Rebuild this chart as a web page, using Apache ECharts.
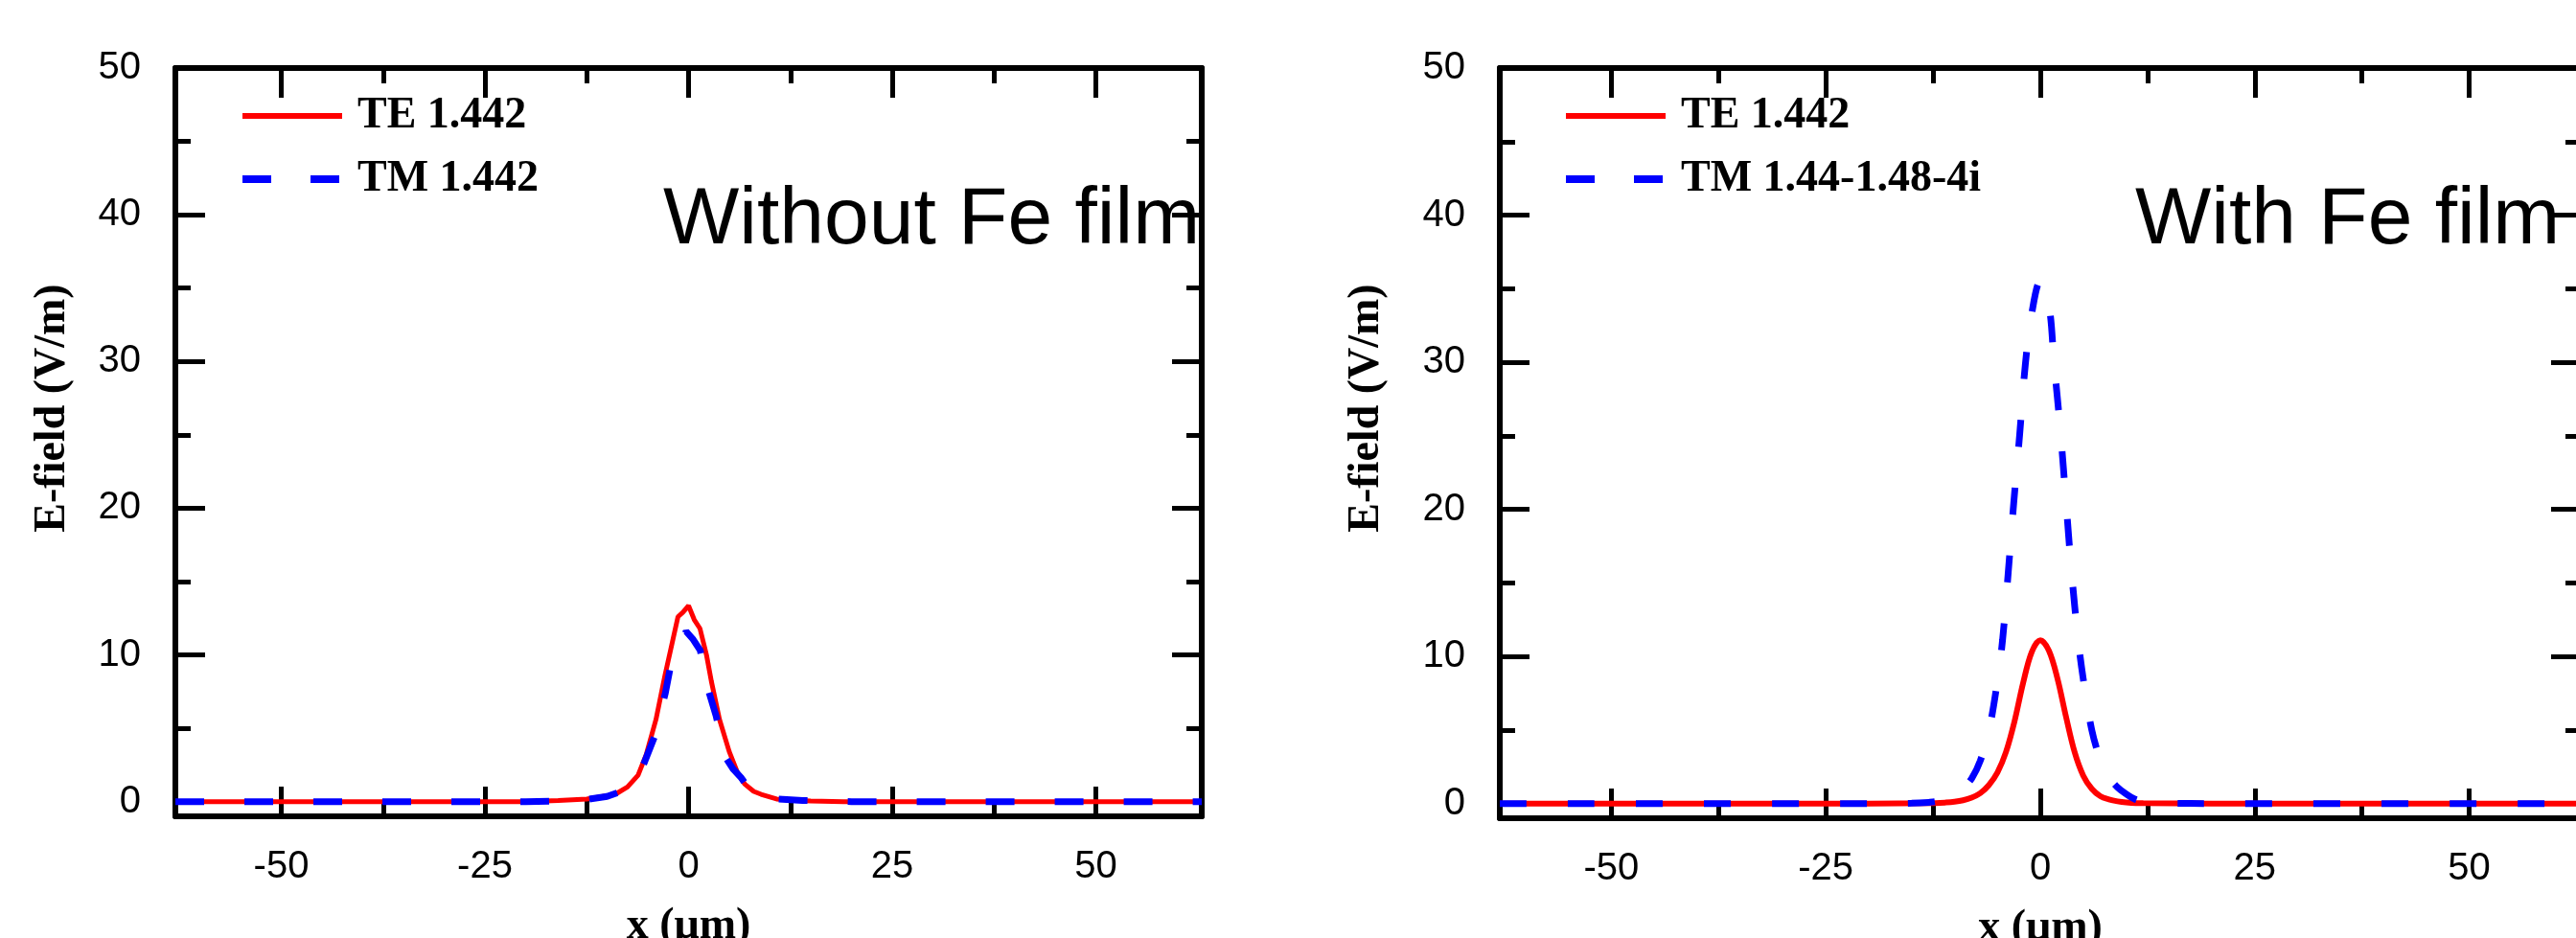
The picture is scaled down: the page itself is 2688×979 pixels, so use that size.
<!DOCTYPE html>
<html><head><meta charset="utf-8">
<script src="https://cdn.jsdelivr.net/npm/echarts@6/dist/echarts.min.js"></script>
<style>html,body{margin:0;padding:0;background:#fff}#c{width:2688px;height:979px}</style>
</head><body><div id="c"></div>
<script>
// ---- texts / ticks ----
const panelTitles = ['Without Fe film', 'With Fe film'];
const namesLeft = ['TE 1.442', 'TM 1.442'];
const namesRight = ['TE 1.442', 'TM 1.44-1.48-4i'];
const xTitle = 'x (\u03bcm)';
const yTitle = 'E-field (V/m)';
const xTicksMajor = [-50, -25, 0, 25, 50];
const xTicksMinor = [-37.5, -12.5, 12.5, 37.5];
const yLabels = [0, 10, 20, 30, 40, 50];
const yTicksMajor = [10, 20, 30, 40, 50];
const yTicksMinor = [5, 15, 25, 35, 45];

// ---- data: left panel (without Fe film) ----
const leftTE_x = [-63,-40,-20,-16,-12.5,-11.4,-10,-8.7,-7.5,-6.2,-5.2,-4,-2.9,-1.9,-1.3,-0.7,0,0.7,1.4,2.2,2.8,3.8,5,6,6.9,8,8.9,10.8,13,15,19,40,63];
const leftTE_y = [0,0,0,0.07,0.18,0.28,0.4,0.6,1.0,1.8,3.2,5.6,8.6,11.1,12.6,12.9,13.35,12.4,11.8,10.0,8.2,5.6,3.4,2.0,1.2,0.7,0.5,0.18,0.1,0.05,0,0,0];
const leftTM_x = [-63,-20,-16,-12.5,-10,-8.5,-7,-6.2,-5.4,-4.2,-2.85,-2.26,-1.2,-0.3,0.5,1.44,2.43,3.4,4.57,5.5,6.5,7.5,9,11,14,20,63];
const leftTM_y = [0,0,0.05,0.15,0.35,0.65,1.2,1.8,2.7,4.4,7.4,9.1,10.6,11.6,11.1,10.3,7.6,5.8,3.0,2.2,1.6,0.8,0.4,0.18,0.08,0,0];

// ---- data: right panel (with Fe film) ----
const rightTE_x = [-63,-20,-13,-11,-10,-9,-8,-7,-6,-5,-4,-3,-2,-1,0,1,2,3,4,5,6,7,8,9,10,12,20,63];
const rightTE_y = [0,0,0.02,0.07,0.12,0.22,0.4,0.7,1.25,2.1,3.5,5.6,8.2,10.3,11.1,10.4,8.5,5.9,3.5,1.9,1.0,0.5,0.28,0.15,0.08,0.02,0,0];
const rightTM_x = [-63,-20,-15,-13,-12,-11,-10,-9,-8,-7,-6,-5,-4.4,-3.75,-3.1,-2.4,-1.75,-1,0,1,1.6,2.35,3,3.65,4.4,5,6,7,8,9,10,11,12,13,15,20,63];
const rightTM_y = [0,0,0.02,0.08,0.15,0.35,0.65,1.05,1.7,2.9,4.9,8.3,11.1,15.6,20.4,25.1,29.8,33.3,35.5,33.9,30.0,25.3,20.5,15.7,11.2,8.5,5.0,3.0,1.8,1.1,0.65,0.3,0.13,0.06,0.02,0,0];

const pairs = (xs, ys) => xs.map((x, i) => [x, ys[i]]);

const SANS = '"Liberation Sans", Arial, sans-serif';
const SERIF = '"Liberation Serif", "Times New Roman", serif';

const grids = [
  { left: 183, top: 71, width: 1071, height: 781, outerBoundsMode: 'none' },
  { left: 1565, top: 71, width: 1128, height: 783, outerBoundsMode: 'none' }
];

const xAxes = [], yAxes = [];
grids.forEach((g, gi) => {
  const base = { type: 'value', min: -63, max: 63, gridIndex: gi, splitLine: { show: false } };
  const line = { show: true, onZero: false, lineStyle: { color: '#000', width: 6 } };
  const noLine = { show: false, onZero: false };
  const tick = (vals, len) => ({ show: true, inside: true, length: len, customValues: vals, lineStyle: { color: '#000', width: 5 } });
  xAxes.push(Object.assign({}, base, {
    position: 'bottom', axisLine: line, axisTick: tick(xTicksMajor, 31),
    axisLabel: { show: true, customValues: xTicksMajor, margin: 33, fontSize: 40, fontFamily: SANS, color: '#000' },
    name: xTitle, nameLocation: 'middle', nameGap: 92,
    nameTextStyle: { fontSize: 46, fontWeight: 'bold', fontFamily: SERIF, color: '#000' }
  }));
  xAxes.push(Object.assign({}, base, { position: 'bottom', axisLine: noLine, axisTick: tick(xTicksMinor, 16), axisLabel: { show: false } }));
  xAxes.push(Object.assign({}, base, { position: 'top', axisLine: line, axisTick: tick(xTicksMajor, 31), axisLabel: { show: false } }));
  xAxes.push(Object.assign({}, base, { position: 'top', axisLine: noLine, axisTick: tick(xTicksMinor, 16), axisLabel: { show: false } }));

  const ybase = { type: 'value', min: -1, max: 50, gridIndex: gi, splitLine: { show: false } };
  yAxes.push(Object.assign({}, ybase, {
    position: 'left', axisLine: line, axisTick: tick(yTicksMajor, 31),
    axisLabel: { show: true, customValues: yLabels, margin: 36, fontSize: 40, fontFamily: SANS, color: '#000' }
  }));
  yAxes.push(Object.assign({}, ybase, { position: 'left', axisLine: noLine, axisTick: tick(yTicksMinor, 16), axisLabel: { show: false } }));
  yAxes.push(Object.assign({}, ybase, { position: 'right', axisLine: line, axisTick: tick(yTicksMajor, 31), axisLabel: { show: false } }));
  yAxes.push(Object.assign({}, ybase, { position: 'right', axisLine: noLine, axisTick: tick(yTicksMinor, 16), axisLabel: { show: false } }));
});

function mkSeries(name, data, gi, color, width, dash, smooth) {
  return {
    name, type: 'line', xAxisIndex: gi * 4, yAxisIndex: gi * 4, data,
    symbol: 'none', smooth: smooth, animation: false,
    lineStyle: { color, width, type: dash || 'solid', cap: 'butt' },
    itemStyle: { color }
  };
}

const legendCommon = {
  orient: 'vertical', itemWidth: 104, itemHeight: 14, itemGap: 20,
  itemStyle: { opacity: 0, color: 'rgba(0,0,0,0)', borderWidth: 0 },
  textStyle: { fontSize: 46, fontWeight: 'bold', fontFamily: SERIF, color: '#000', padding: [0, 0, 0, 11] },
  selectedMode: false
};
const legendItems = (names) => [
  { name: names[0], lineStyle: { width: 6, color: '#ff0000', type: 'solid' } },
  { name: names[1], lineStyle: { width: 8, color: '#0000ff', type: [30, 41] } }
];

const option = {
  backgroundColor: '#fff',
  animation: false,
  grid: grids,
  xAxis: xAxes,
  yAxis: yAxes,
  title: [
    { text: panelTitles[0], left: 687, top: 184, textStyle: { fontSize: 84, fontWeight: 'normal', fontFamily: SANS, color: '#000' } },
    { text: panelTitles[1], left: 2223, top: 184, textStyle: { fontSize: 84, fontWeight: 'normal', fontFamily: SANS, color: '#000' } }
  ],
  legend: [
    Object.assign({}, legendCommon, { left: 244, top: 93, data: legendItems(namesLeft) }),
    Object.assign({}, legendCommon, { left: 1625, top: 93, data: legendItems(namesRight) })
  ],
  graphic: [
    { type: 'text', x: 55, y: 426, rotation: Math.PI / 2,
      style: { text: yTitle, font: 'bold 46px ' + SERIF, fill: '#000', align: 'center', verticalAlign: 'middle', textAlign: 'center', textVerticalAlign: 'middle' } },
    { type: 'text', x: 1426, y: 426, rotation: Math.PI / 2,
      style: { text: yTitle, font: 'bold 46px ' + SERIF, fill: '#000', align: 'center', verticalAlign: 'middle', textAlign: 'center', textVerticalAlign: 'middle' } }
  ],
  series: [
    mkSeries(namesLeft[0], pairs(leftTE_x, leftTE_y), 0, '#ff0000', 5, null, false),
    mkSeries(namesLeft[1], pairs(leftTM_x, leftTM_y), 0, '#0000ff', 7, [30, 42], false),
    mkSeries(namesRight[0], pairs(rightTE_x, rightTE_y), 1, '#ff0000', 6, null, 0.35),
    mkSeries(namesRight[1], pairs(rightTM_x, rightTM_y), 1, '#0000ff', 7, [28, 43], 0.35)
  ]
};

const chart = echarts.init(document.getElementById('c'), null, { renderer: 'canvas' });
chart.setOption(option);
</script>
</body></html>
